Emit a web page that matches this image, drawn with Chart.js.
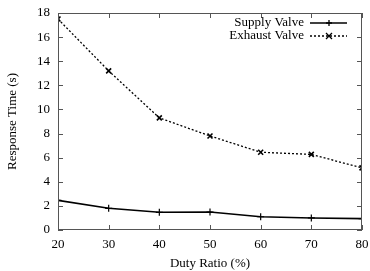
<!DOCTYPE html>
<html>
<head>
<meta charset="utf-8">
<script src="https://cdn.jsdelivr.net/npm/chart.js@4"></script>
<style>
  html, body { margin: 0; padding: 0; background: #fff; }
  #wrap { width: 370px; height: 271px; }
</style>
</head>
<body>
<div id="wrap"><canvas id="respChart" width="370" height="271"></canvas></div>
<script>
const dutyRatio = [20, 30, 40, 50, 60, 70, 80];
const supplyValve = [2.46, 1.8, 1.47, 1.49, 1.1, 1.0, 0.94];
const exhaustValve = [17.5, 13.2, 9.3, 7.8, 6.45, 6.27, 5.15];
const xTicks = [20, 30, 40, 50, 60, 70, 80];
const yTicks = [0, 2, 4, 6, 8, 10, 12, 14, 16, 18];

const FONT = "'Liberation Serif', 'DejaVu Serif', serif";

function toPoints(xs, ys) {
  return xs.map((x, i) => ({ x: x, y: ys[i] }));
}

function noEdgePadding(s) {
  s.paddingTop = 0; s.paddingBottom = 0;
  s.paddingLeft = 0; s.paddingRight = 0;
}

// gnuplot-like frame: border box, inward ticks and legend inside top right
const framePlugin = {
  id: 'frame',
  afterDraw(chart) {
    const ctx = chart.ctx;
    const a = chart.chartArea;
    const xs = chart.scales.x, ys = chart.scales.y;
    ctx.save();
    ctx.strokeStyle = '#555';
    ctx.lineWidth = 1;
    ctx.strokeRect(a.left + 0.5, a.top + 0.5, a.right - a.left - 1, a.bottom - a.top - 1);
    ctx.beginPath();
    xTicks.forEach(v => {
      const px = Math.round(xs.getPixelForValue(v)) + 0.5;
      ctx.moveTo(px, a.bottom); ctx.lineTo(px, a.bottom - 5);
      ctx.moveTo(px, a.top); ctx.lineTo(px, a.top + 5);
    });
    yTicks.forEach(v => {
      const py = Math.round(ys.getPixelForValue(v)) + 0.5;
      ctx.moveTo(a.left, py); ctx.lineTo(a.left + 5, py);
      ctx.moveTo(a.right, py); ctx.lineTo(a.right - 5, py);
    });
    ctx.stroke();

    // legend
    ctx.font = '13px ' + FONT;
    ctx.fillStyle = '#000';
    ctx.textAlign = 'right';
    ctx.textBaseline = 'middle';
    chart.data.datasets.forEach((ds, i) => {
      const y = a.top + 10 + i * 13;
      ctx.fillText(ds.label, a.right - 58, y);
      ctx.strokeStyle = '#000';
      ctx.lineWidth = ds.borderWidth;
      ctx.setLineDash(ds.borderDash || []);
      ctx.beginPath();
      ctx.moveTo(a.right - 52, y); ctx.lineTo(a.right - 15, y);
      ctx.stroke();
      ctx.setLineDash([]);
      ctx.lineWidth = 1.3;
      const cx = a.right - 33, r = 3;
      ctx.beginPath();
      if (ds.pointStyle === 'cross') {
        ctx.moveTo(cx - r, y); ctx.lineTo(cx + r, y);
        ctx.moveTo(cx, y - r); ctx.lineTo(cx, y + r);
      } else {
        ctx.moveTo(cx - r, y - r); ctx.lineTo(cx + r, y + r);
        ctx.moveTo(cx - r, y + r); ctx.lineTo(cx + r, y - r);
      }
      ctx.stroke();
    });
    ctx.restore();
  }
};

new Chart(document.getElementById('respChart'), {
  type: 'line',
  data: {
    datasets: [{
      label: 'Supply Valve',
      data: toPoints(dutyRatio, supplyValve),
      borderColor: '#000',
      backgroundColor: '#000',
      borderWidth: 1.6,
      pointStyle: 'cross',
      pointRadius: 3.5,
      pointBorderWidth: 1.2,
      tension: 0
    }, {
      label: 'Exhaust Valve',
      data: toPoints(dutyRatio, exhaustValve),
      borderColor: '#000',
      backgroundColor: '#000',
      borderWidth: 1.3,
      borderDash: [2, 2],
      pointStyle: 'crossRot',
      pointRadius: 3.5,
      pointBorderWidth: 1.6,
      tension: 0
    }]
  },
  options: {
    responsive: false,
    animation: false,
    layout: { padding: { top: 13, right: 8, left: 0, bottom: 0 } },
    plugins: {
      legend: { display: false },
      tooltip: { enabled: false }
    },
    scales: {
      x: {
        type: 'linear',
        min: 20, max: 80,
        afterBuildTicks: s => { s.ticks = xTicks.map(v => ({ value: v })); },
        afterFit: s => { s.height = 41; noEdgePadding(s); },
        grid: { display: false, drawTicks: false },
        border: { display: false },
        ticks: { color: '#000', padding: 7, font: { family: FONT, size: 13 } },
        title: { display: true, text: 'Duty Ratio (%)', color: '#000', padding: { top: 0, bottom: 0 }, font: { family: FONT, size: 13 } }
      },
      y: {
        min: 0, max: 18,
        afterBuildTicks: s => { s.ticks = yTicks.map(v => ({ value: v })); },
        afterFit: s => { s.width = 58; noEdgePadding(s); },
        grid: { display: false, drawTicks: false },
        border: { display: false },
        ticks: { color: '#000', padding: 8, font: { family: FONT, size: 13 } },
        title: { display: true, text: 'Response Time (s)', color: '#000', padding: { top: 5, bottom: 0 }, font: { family: FONT, size: 13 } }
      }
    }
  },
  plugins: [framePlugin]
});
</script>
</body>
</html>
